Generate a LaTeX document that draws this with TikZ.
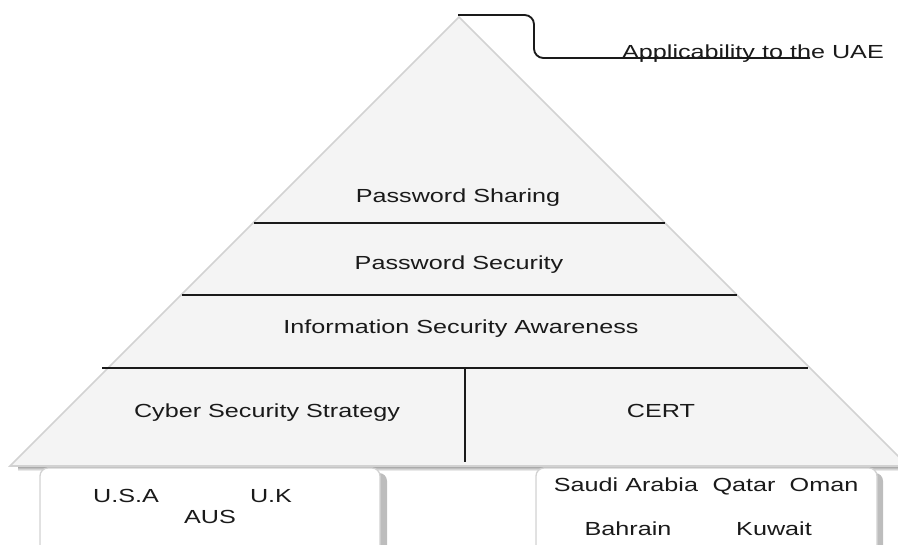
\documentclass[tikz,border=0pt]{standalone}
\usepackage{fontspec}
\setmainfont{Liberation Sans}[FakeStretch=1.33]
\definecolor{pyrfill}{HTML}{F4F4F4}
\definecolor{pyredge}{HTML}{D2D2D2}
\definecolor{shade}{HTML}{BDBDBD}
\definecolor{ink}{HTML}{1A1A1A}
\begin{document}
\begin{tikzpicture}[x=0.75pt,y=-0.75pt,
  lbl/.style={font=\fontsize{14.2}{16}\selectfont, text=ink, inner sep=0pt, anchor=base},
  divider/.style={draw=ink, line width=1.4pt},
  callout/.style={draw=ink, line width=1.4pt, rounded corners=7pt},
  pyramid/.style={fill=pyrfill, draw=pyredge, line width=1.2pt, line join=miter},
  countrybox/.style={fill=white, draw=pyredge, line width=1pt, rounded corners=6pt},
  boxshade/.style={fill=shade, rounded corners=6pt}]
\useasboundingbox (0,0) rectangle (898,544);
\clip (0,0) rectangle (898,544);

% shadow band under the base of the pyramid
\fill[shade] (18,465) rectangle (905,471);

% pyramid
\coordinate (apex) at (459,17);
\coordinate (baseL) at (10,466);
\coordinate (baseR) at (908,466);
\path[pyramid] (apex) -- (baseR) -- (baseL) -- cycle;

% tier dividers
\draw[divider] (254,223) -- (665,223);
\draw[divider] (182,295) -- (737,295);
\draw[divider] (102,368) -- (808,368);
\draw[divider] (465,368) -- (465,462);

% tier labels
\node[lbl] (sharing)  at (458,202) {Password Sharing};
\node[lbl] (security) at (459,269) {Password Security};
\node[lbl] (aware)    at (461,333) {Information Security Awareness};
\node[lbl] (strategy) at (267,417) {Cyber Security Strategy};
\node[lbl] (cert)     at (661,417) {CERT};

% callout from the apex
\coordinate (top) at (458,15);
\coordinate (tail) at (810,58);
\draw[callout] (top) -- ++(76,0) |- (tail);
\node[lbl] (uae) at (753,58.5) {Applicability to the UAE};

% country boxes
\fill[boxshade] (46,473) rectangle (387,560);
\node[countrybox, minimum width=340*0.75pt, minimum height=92*0.75pt] (west) at (210,514) {};
\fill[boxshade] (542,473) rectangle (883,560);
\node[countrybox, minimum width=341*0.75pt, minimum height=92*0.75pt] (gulf) at (706.5,514) {};

\node[lbl] (usa) at (126,502) {U.S.A};
\node[lbl] (uk)  at (271,502) {U.K};
\node[lbl] (aus) at (210,523) {AUS};

\node[lbl] (ksa)  at (626,491) {Saudi Arabia};
\node[lbl] (qat)  at (744,491) {Qatar};
\node[lbl] (omn)  at (824,491) {Oman};
\node[lbl] (bhr)  at (628,535) {Bahrain};
\node[lbl] (kwt)  at (774,535) {Kuwait};
\end{tikzpicture}
\end{document}
